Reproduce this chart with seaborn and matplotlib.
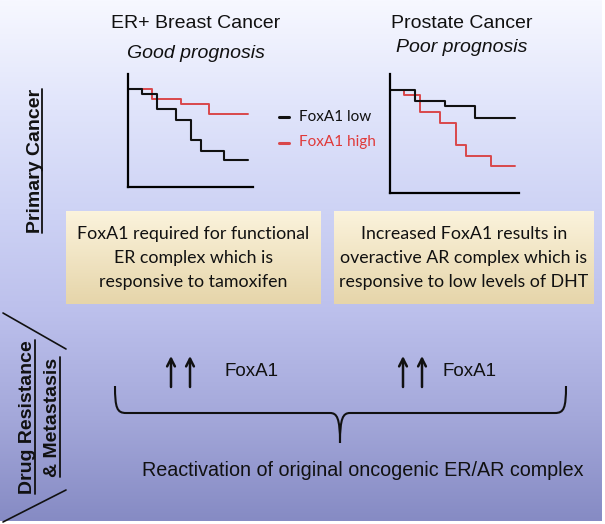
import matplotlib.pyplot as plt
from matplotlib.path import Path
from matplotlib.patches import PathPatch
from matplotlib.colors import LinearSegmentedColormap
import numpy as np
import seaborn as sns

# survival curves (time 0-10, fraction surviving)
breast_low_t = [0, 1.1, 2.3, 3.8, 5.0, 5.8, 7.7, 9.6]
breast_low_s = [1.0, 0.95, 0.79, 0.68, 0.48, 0.37, 0.27, 0.27]
breast_high_t = [0, 1.9, 4.2, 6.5, 9.6]
breast_high_s = [1.0, 0.9, 0.84, 0.74, 0.74]
prostate_low_t = [0, 1.9, 4.3, 6.6, 9.7]
prostate_low_s = [1.0, 0.89, 0.84, 0.73, 0.73]
prostate_high_t = [0, 1.1, 2.3, 3.9, 5.1, 5.9, 7.8, 9.7]
prostate_high_s = [1.0, 0.95, 0.79, 0.68, 0.47, 0.36, 0.26, 0.26]

titles = ["ER+ Breast Cancer", "Prostate Cancer"]
subtitles = ["Good prognosis", "Poor prognosis"]
legend_labels = ["FoxA1 low", "FoxA1 high"]
box_texts = ["FoxA1 required for functional\nER complex which is\nresponsive to tamoxifen",
             "Increased FoxA1 results in\noveractive AR complex which is\nresponsive to low levels of DHT"]
side_labels = ["Primary Cancer", "Drug Resistance", "& Metastasis"]
bottom_text = "Reactivation of original oncogenic ER/AR complex"

LOW = "#111111"
HIGH = "#d9474b"

sns.set_style("white")
plt.rcParams["font.family"] = ["Liberation Sans", "DejaVu Sans"]

W, H = 605, 524
fig = plt.figure(figsize=(W / 100, H / 100), dpi=100, facecolor="white")
ax = fig.add_axes([0, 0, 1, 1])
ax.set_xlim(0, W)
ax.set_ylim(H, 0)
ax.axis("off")

# background gradient
bg = LinearSegmentedColormap.from_list("bg", [(0, "#f7f8ff"), (0.2, "#e1e5fb"), (0.4, "#ced3f5"),
                                              (0.6, "#bcc0ec"), (0.8, "#a4a8da"), (1, "#868bc4")])
ax.imshow(np.linspace(0, 1, 256)[:, None], extent=(0, 602, 521, 0), aspect="auto", cmap=bg, zorder=0)

# titles
for cx, t, st, sy in [(196, titles[0], subtitles[0], 53), (462, titles[1], subtitles[1], 48)]:
    ax.text(cx, 23, t, ha="center", va="center", fontsize=14, color="#111111")
    ax.text(cx, sy, st, ha="center", va="center", fontsize=14, style="italic", color="#111111")


def km_panel(left, top, width, height, low_t, low_s, high_t, high_s, ymax):
    kax = fig.add_axes([left / W, 1 - (top + height) / H, width / W, height / H])
    kax.patch.set_alpha(0)
    sns.lineplot(x=high_t, y=high_s, drawstyle="steps-post", color=HIGH, lw=1.4, ax=kax)
    sns.lineplot(x=low_t, y=low_s, drawstyle="steps-post", color=LOW, lw=1.5, ax=kax)
    kax.set_xlim(0, 10)
    kax.set_ylim(0, ymax)
    kax.set_xticks([])
    kax.set_yticks([])
    for s in ["top", "right"]:
        kax.spines[s].set_visible(False)
    for s in ["left", "bottom"]:
        kax.spines[s].set_color("black")
        kax.spines[s].set_linewidth(1.6)
    return kax


km_panel(128, 74, 125, 113, breast_low_t, breast_low_s, breast_high_t, breast_high_s, 1.15)
km_panel(390, 74, 129, 119, prostate_low_t, prostate_low_s, prostate_high_t, prostate_high_s, 1.155)

# legend
ax.plot([279, 289], [117, 117], color=LOW, lw=2.2)
ax.plot([279, 289], [143, 143], color=HIGH, lw=2.2)
ax.text(299, 117, legend_labels[0], va="center", fontsize=11, family=["Lato"], color="#111111")
ax.text(299, 142, legend_labels[1], va="center", fontsize=11, family=["Lato"], color="#e03a3a")

# text boxes
box_cm = LinearSegmentedColormap.from_list("box", ["#fbf3dc", "#e6d5aa"])
for (x0, x1), txt in zip([(66, 321), (334, 594)], box_texts):
    ax.imshow(np.linspace(0, 1, 64)[:, None], extent=(x0, x1, 304, 211), aspect="auto", cmap=box_cm, zorder=1)
    ax.text((x0 + x1) / 2, 258, txt, ha="center", va="center", fontsize=12.8, family=["Lato"],
            linespacing=1.65, color="#111111", zorder=2)

# side labels, underlined
for x, yc, lbl, ul in [(39.5, 161, side_labels[0], 42), (32, 417, side_labels[1], 35), (57, 417, side_labels[2], 60)]:
    t = ax.text(x, yc, lbl, rotation=90, rotation_mode="anchor", ha="center", va="baseline",
                fontsize=14, fontweight="bold", color="#111111")
    fig.canvas.draw()
    bb = t.get_window_extent().transformed(ax.transData.inverted())
    ax.plot([ul, ul], [bb.y0, bb.y1], color="#111111", lw=1.3)

ax.plot([3, 66], [313, 349], color="#111111", lw=1.2)
ax.plot([3, 66], [522, 490], color="#111111", lw=1.2)

# arrows and FoxA1 labels
for xa, xt in [(171, 224), (403, 443)]:
    for dx in [0, 19]:
        ax.annotate("", xy=(xa + dx, 356), xytext=(xa + dx, 387),
                    arrowprops=dict(arrowstyle="->,head_length=0.55,head_width=0.28", lw=1.8,
                                    color="#111111", shrinkA=0, shrinkB=0))
    ax.text(xt, 372, "FoxA1", va="center", fontsize=13.5, color="#111111")

# brace
verts = [(115, 386), (115, 408), (117, 413), (126, 413), (330, 413), (337, 413), (340, 418), (340, 443),
         (340, 418), (343, 413), (350, 413), (555, 413), (564, 413), (566, 408), (566, 386)]
codes = [Path.MOVETO, Path.CURVE4, Path.CURVE4, Path.CURVE4, Path.LINETO, Path.CURVE4, Path.CURVE4, Path.CURVE4,
         Path.CURVE4, Path.CURVE4, Path.CURVE4, Path.LINETO, Path.CURVE4, Path.CURVE4, Path.CURVE4]
ax.add_patch(PathPatch(Path(verts, codes), fill=False, lw=1.5, edgecolor="#111111"))

ax.text(363, 471, bottom_text, ha="center", va="center", fontsize=14.2, color="#111111")

fig.savefig("out.png", dpi=100, facecolor="white")
